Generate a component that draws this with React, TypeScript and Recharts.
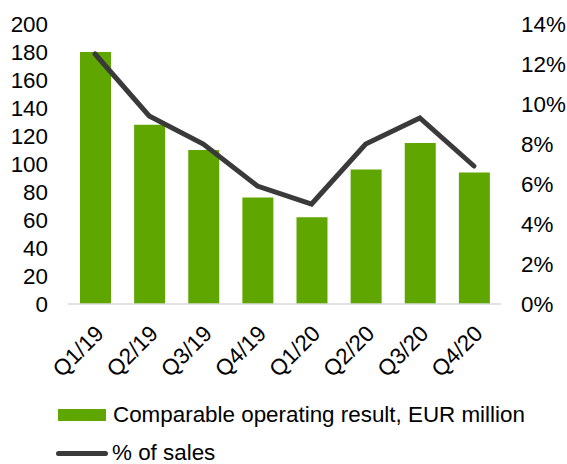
import React from "react";
import {
  ComposedChart,
  Bar,
  Line,
  XAxis,
  YAxis,
  Legend,
} from "recharts";

const quarters: string[] = ["Q1/19", "Q2/19", "Q3/19", "Q4/19", "Q1/20", "Q2/20", "Q3/20", "Q4/20"];
const operatingResult: number[] = [180, 128, 110, 76, 62, 96, 115, 94];
const pctOfSales: number[] = [12.5, 9.4, 8.0, 5.9, 5.0, 8.0, 9.3, 6.9];
const leftTicks: number[] = [0, 20, 40, 60, 80, 100, 120, 140, 160, 180, 200];
const rightTicks: number[] = [0, 2, 4, 6, 8, 10, 12, 14];

const GREEN = "#60a600";
const DARK = "#3a3a3a";
const FONT = "'Liberation Sans', Arial, sans-serif";
const FS = 22.4;

const data = quarters.map((q, i) => ({
  quarter: q,
  result: operatingResult[i],
  pct: pctOfSales[i],
}));

const QuarterTick = (props: any) => {
  const { x, y, payload } = props;
  const ax = x + 10;
  const ay = y + 23;
  return (
    <text
      x={ax}
      y={ay}
      textAnchor="end"
      transform={`rotate(-45, ${ax}, ${ay})`}
      fill="#000"
      fontSize={FS}
      fontFamily={FONT}
    >
      {payload.value}
    </text>
  );
};

const rowStyle: React.CSSProperties = {
  display: "flex",
  alignItems: "center",
  height: 16,
  lineHeight: "16px",
};

const LegendBox = () => (
  <div style={{ fontFamily: FONT, fontSize: FS, color: "#000" }}>
    <div style={rowStyle}>
      <span style={{ display: "inline-block", width: 48, height: 12, background: GREEN, marginLeft: 58, marginRight: 7 }} />
      <span>Comparable operating result, EUR million</span>
    </div>
    <div style={{ ...rowStyle, marginTop: 22 }}>
      <span style={{ display: "inline-block", width: 52, height: 5, borderRadius: 3, background: DARK, marginLeft: 56, marginRight: 4 }} />
      <span>% of sales</span>
    </div>
  </div>
);

const App: React.FC = () => {
  return (
    <div style={{ position: "absolute", left: 0, top: 0 }}>
      <ComposedChart
        width={567}
        height={464}
        data={data}
        margin={{ top: 24, right: 0, bottom: 100, left: 0 }}
        barCategoryGap={0}
      >
        <XAxis
          dataKey="quarter"
          tick={<QuarterTick />}
          tickLine={false}
          axisLine={{ stroke: "#d9d9d9", strokeWidth: 1.5 }}
          height={60}
          interval={0}
        />
        <YAxis
          yAxisId="left"
          domain={[0, 200]}
          ticks={leftTicks}
          width={68}
          axisLine={false}
          tickLine={false}
          tickSize={0}
          tickMargin={20}
          tick={{ fill: "#000", fontSize: FS, fontFamily: FONT }}
          interval={0}
        />
        <YAxis
          yAxisId="right"
          orientation="right"
          domain={[0, 14]}
          ticks={rightTicks}
          width={66}
          axisLine={false}
          tickLine={false}
          tickSize={0}
          tickMargin={20}
          tickFormatter={(v: number) => `${v}%`}
          tick={{ fill: "#000", fontSize: FS, fontFamily: FONT, textAnchor: "start" }}
          interval={0}
        />
        <Bar
          yAxisId="left"
          dataKey="result"
          name="Comparable operating result, EUR million"
          fill={GREEN}
          barSize={31}
          isAnimationActive={false}
        />
        <Line
          yAxisId="right"
          dataKey="pct"
          name="% of sales"
          stroke={DARK}
          strokeWidth={5}
          strokeLinecap="round"
          dot={false}
          activeDot={false}
          type="linear"
          isAnimationActive={false}
        />
        <Legend
          layout="vertical"
          align="center"
          verticalAlign="middle"
          content={<LegendBox />}
          wrapperStyle={{ left: 0, top: 407, width: 567 }}
        />
      </ComposedChart>
    </div>
  );
};

export default App;
